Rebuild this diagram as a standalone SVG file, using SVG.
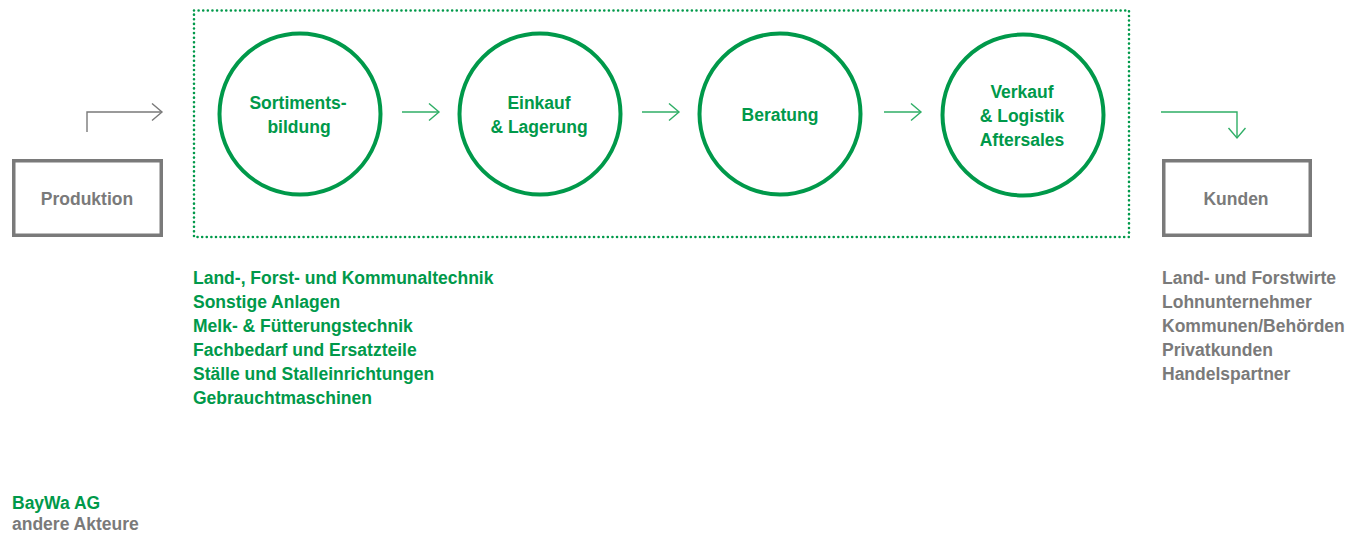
<svg xmlns="http://www.w3.org/2000/svg" width="1350" height="536" viewBox="0 0 1350 536">
<defs>
<style>
text{font-family:"Liberation Sans",Arial,sans-serif;font-weight:bold;font-size:17.5px}
.g{fill:#00994a}
.k{fill:#7a7a7a}
.c{fill:none;stroke:#00994a;stroke-width:4}
.box{fill:none;stroke:#7a7a7a;stroke-width:3.5}
.cg{fill:none;stroke:#2fae66;stroke-width:1.4}
.ck{fill:none;stroke:#7a7a7a;stroke-width:1.4}
</style>
<marker id="ag" markerUnits="userSpaceOnUse" markerWidth="14" markerHeight="20" refX="11" refY="9" orient="auto" viewBox="0 0 14 20">
<path d="M1,0.5 L11,9 L1,17.5" fill="none" stroke="#2fae66" stroke-width="1.4"/>
</marker>
<marker id="ak" markerUnits="userSpaceOnUse" markerWidth="14" markerHeight="20" refX="11" refY="9" orient="auto" viewBox="0 0 14 20">
<path d="M1,0.5 L11,9 L1,17.5" fill="none" stroke="#7a7a7a" stroke-width="1.4"/>
</marker>
</defs>
<rect x="0" y="0" width="1350" height="536" fill="#fff"/>
<g id="frame">
<rect x="194" y="10.5" width="935" height="226.5" fill="none" stroke="#00994a" stroke-width="2.6" stroke-linecap="round" stroke-dasharray="0.01 4.6"/>
</g>
<g id="connectors">
<path class="ck" d="M87,132 V112 H162" marker-end="url(#ak)"/>
<path class="cg" d="M402,112 H439" marker-end="url(#ag)"/>
<path class="cg" d="M642,112 H679" marker-end="url(#ag)"/>
<path class="cg" d="M884,112 H921" marker-end="url(#ag)"/>
<path class="cg" d="M1161,112 H1237 V138" marker-end="url(#ag)"/>
</g>
<g id="produktion">
<rect class="box" x="13.75" y="160.75" width="147.5" height="74.5"/>
<text class="k" x="87" y="204.5" text-anchor="middle" font-size="17">Produktion</text>
</g>
<g id="sortimentsbildung">
<circle class="c" cx="300" cy="114" r="80.5"/>
<text class="g" x="298" y="109" text-anchor="middle">Sortiments-</text>
<text class="g" x="299" y="133" text-anchor="middle">bildung</text>
</g>
<g id="einkauf">
<circle class="c" cx="540" cy="114" r="80.5"/>
<text class="g" x="539" y="109" text-anchor="middle">Einkauf</text>
<text class="g" x="539" y="133" text-anchor="middle">&amp; Lagerung</text>
</g>
<g id="beratung">
<circle class="c" cx="780" cy="114" r="80.5"/>
<text class="g" x="780" y="121" text-anchor="middle">Beratung</text>
</g>
<g id="verkauf">
<circle class="c" cx="1023" cy="115" r="80.5"/>
<text class="g" x="1022" y="98" text-anchor="middle">Verkauf</text>
<text class="g" x="1022" y="122" text-anchor="middle">&amp; Logistik</text>
<text class="g" x="1022" y="146" text-anchor="middle">Aftersales</text>
</g>
<g id="kunden">
<rect class="box" x="1163.75" y="160.75" width="146.5" height="74.5"/>
<text class="k" x="1236" y="204.5" text-anchor="middle" font-size="17">Kunden</text>
</g>
<g id="produkte">
<text class="g" x="193" y="284">Land-, Forst- und Kommunaltechnik</text>
<text class="g" x="193" y="308">Sonstige Anlagen</text>
<text class="g" x="193" y="332">Melk- &amp; Fütterungstechnik</text>
<text class="g" x="193" y="356">Fachbedarf und Ersatzteile</text>
<text class="g" x="193" y="380">Ställe und Stalleinrichtungen</text>
<text class="g" x="193" y="404">Gebrauchtmaschinen</text>
</g>
<g id="kundengruppen">
<text class="k" x="1162" y="284">Land- und Forstwirte</text>
<text class="k" x="1162" y="308">Lohnunternehmer</text>
<text class="k" x="1162" y="332">Kommunen/Behörden</text>
<text class="k" x="1162" y="356">Privatkunden</text>
<text class="k" x="1162" y="380">Handelspartner</text>
</g>
<g id="legende">
<text class="g" x="12" y="509">BayWa AG</text>
<text class="k" x="12" y="530">andere Akteure</text>
</g>
</svg>
